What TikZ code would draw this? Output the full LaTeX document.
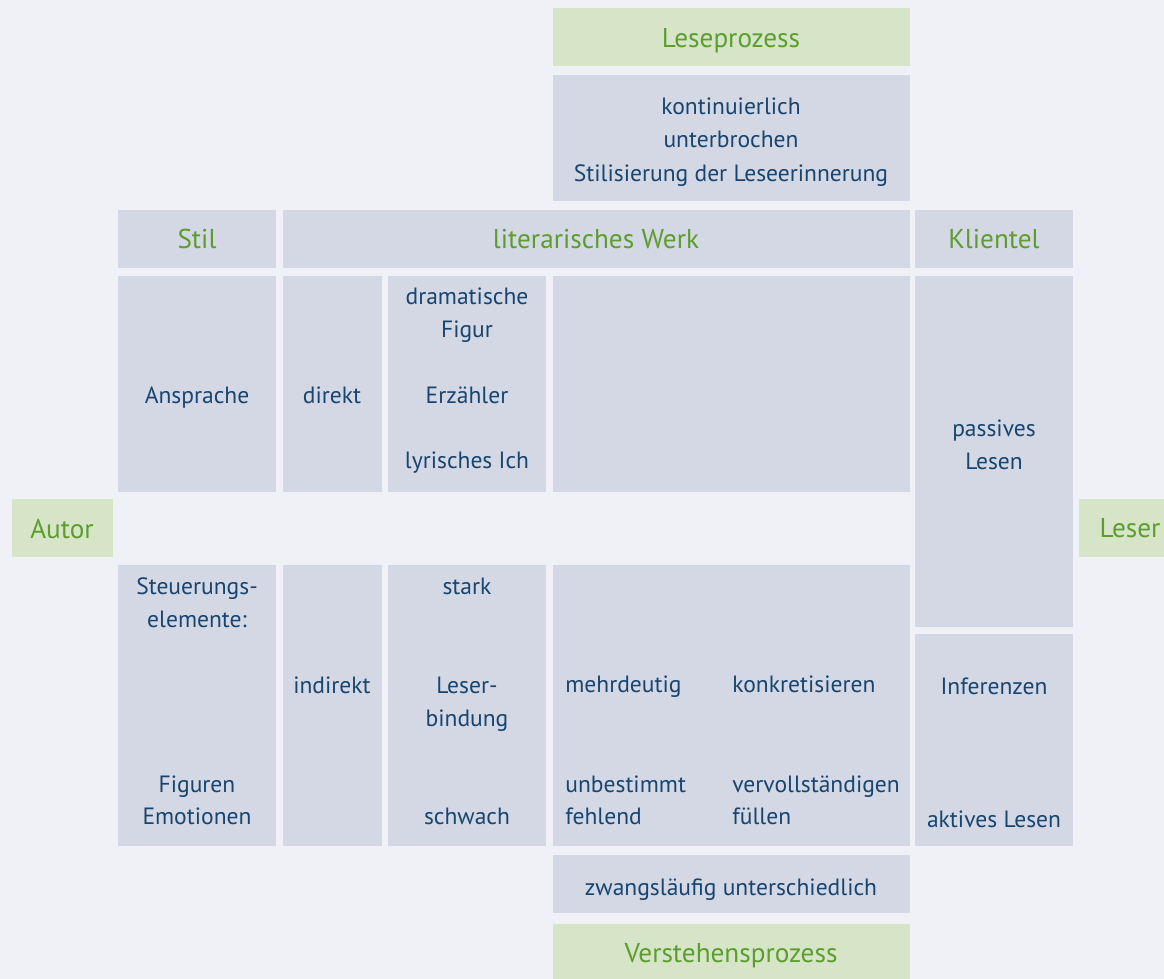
\documentclass[tikz,border=0pt]{standalone}
\usepackage{fontspec}
\setmainfont{PT Sans}
\definecolor{pagebg}{HTML}{EFF1F7}
\definecolor{cellgray}{HTML}{D4D8E5}
\definecolor{taggreen}{HTML}{D6E5C8}
\definecolor{wordblue}{HTML}{17456F}
\definecolor{titlegreen}{HTML}{5C9E2E}
\tikzset{
  cell/.style={fill=cellgray, inner sep=0pt, outer sep=0pt},
  tag/.style={cell, fill=taggreen},
  word/.style={anchor=base, inner sep=0pt, text=wordblue, font=\fontsize{13.4}{18.7}\selectfont},
  leftword/.style={word, anchor=base west},
  title/.style={word, text=titlegreen, font=\fontsize{15.5}{19}\selectfont},
}
\begin{document}
\begin{tikzpicture}[x=0.02cm, y=-0.02cm]
\useasboundingbox (0,0) rectangle (1164,979);
\clip (0,0) rectangle (1164,979);
\fill[pagebg] (0,0) rectangle (1164,979);

% green boxes
\foreach \n/\xa/\ya/\xb/\yb in {tLese/553/8/910/66, tAutor/12/499/113/557,
  tLeser/1079/499/1181/557, tVerst/553/924/910/984}
{
    \node[tag, minimum width={(\xb-\xa)*0.02cm}, minimum height={(\yb-\ya)*0.02cm}]
      (\n) at ({(\xa+\xb)/2},{(\ya+\yb)/2}) {};
}
% gray boxes
\foreach \n/\xa/\ya/\xb/\yb in {bLese/553/75/910/201,
  bStil/118/210/276/268, bWerk/283/210/910/268, bKlient/915/210/1073/268,
  bAnspr/118/276/276/492, bDirekt/283/276/382/492, bFigur/388/276/546/492,
  bLeer/553/276/910/492, bPassiv/915/276/1073/627,
  bSteuer/118/565/276/846, bIndir/283/565/382/846, bBind/388/565/546/846,
  bDeut/553/565/910/846, bAktiv/915/634/1073/846,
  bZwang/553/855/910/913}
{
    \node[cell, minimum width={(\xb-\xa)*0.02cm}, minimum height={(\yb-\ya)*0.02cm}]
      (\n) at ({(\xa+\xb)/2},{(\ya+\yb)/2}) {};
}

% green titles
\foreach \n/\x/\y/\t in {leseproz/731/48/Leseprozess, stil/197/249/Stil,
  werk/596/249/literarisches Werk, klientel/994/249/Klientel,
  autor/62/539/Autor, leser/1130/538/Leser, verstehen/731/963/Verstehensprozess}
{
    \node[title] (\n) at (\x,\y) {\t};
}
% centred words
\foreach \n/\x/\y/\t in {kont/731/115/kontinuierlich, unterbr/731/148/unterbrochen,
  stilis/731/182/Stilisierung der Leseerinnerung,
  anspr/197/404/Ansprache, direkt/332/404/direkt,
  drama/467/305/dramatische, figur/467/338/Figur,
  erz/467/404/Erzähler, lyr/467/469/lyrisches Ich,
  passiv/994/437/passives, lesen/994/470/Lesen,
  steuer/197/595/Steuerungs-, elem/197/628/elemente:,
  figuren/197/793/Figuren, emot/197/825/Emotionen,
  indir/332/694/indirekt, stark/467/595/stark,
  leserb/467/694/Leser-, bindung/467/727/bindung, schwach/467/825/schwach,
  infer/994/695/Inferenzen, aktiv/994/827/aktives Lesen,
  zwang/731/895/zwangsläufig unterschiedlich}
{
    \node[word] (\n) at (\x,\y) {\t};
}
% left-aligned words
\foreach \n/\x/\y/\t in {mehr/565/693/mehrdeutig, unbest/565/793/unbestimmt,
  fehlend/565/825/fehlend, konkret/732/693/konkretisieren,
  vervoll/732/793/vervollständigen, fuellen/732/825/füllen}
{
    \node[leftword] (\n) at (\x,\y) {\t};
}

\end{tikzpicture}
\end{document}
